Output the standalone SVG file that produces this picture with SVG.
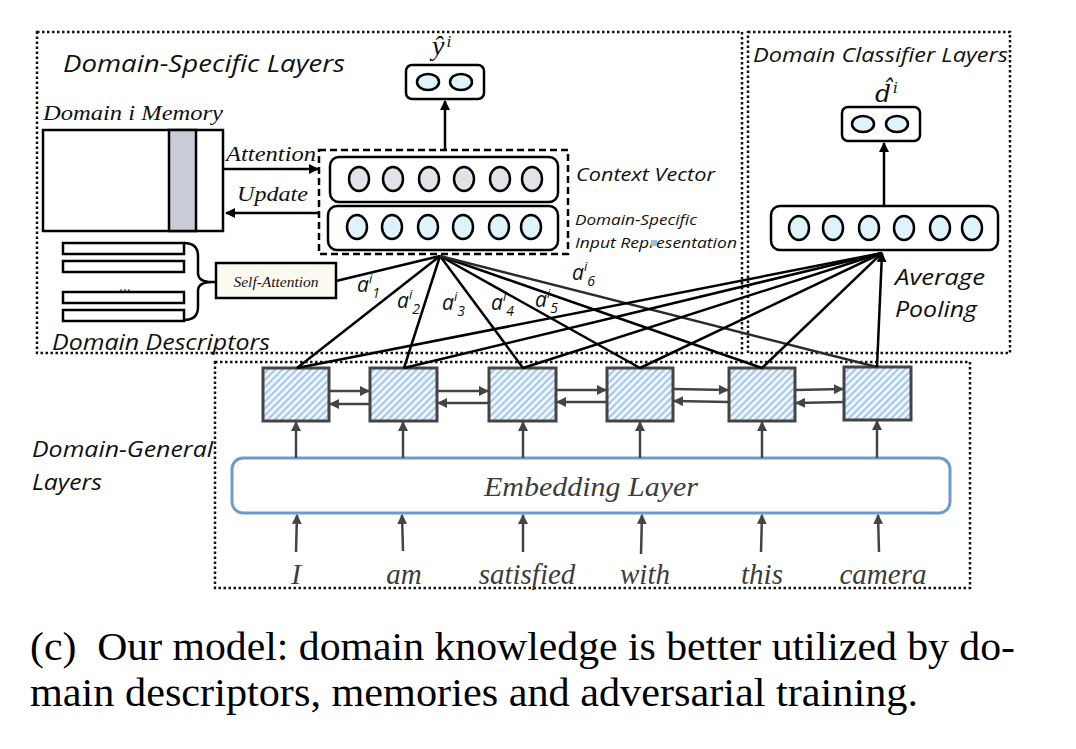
<svg xmlns="http://www.w3.org/2000/svg" width="1076" height="749" viewBox="0 0 1076 749">
<style>
.sans{font-family:"Open Sans","Noto Sans","Liberation Sans",sans-serif;font-style:italic;fill:#111}
.serif{font-family:"Liberation Serif","Times New Roman",serif;font-style:italic;fill:#111}
.gserif{font-family:"Liberation Serif","Times New Roman",serif;font-style:italic;fill:#3c3c3c}
.dot{fill:none;stroke:#111;stroke-width:2.5;stroke-dasharray:2.5 2.5}
.blk{fill:none;stroke:#000;stroke-width:2.5}
.rr{fill:#fff;stroke:#000;stroke-width:2.5}
.cg{fill:#e1e3e9;stroke:#000;stroke-width:2.5}
.cb{fill:#def3fc;stroke:#000;stroke-width:2.5}
.lstm{fill:url(#hatch);stroke:#444;stroke-width:3}
.ga{fill:none;stroke:#444;stroke-width:2.5;marker-end:url(#ag)}
.ba{fill:none;stroke:#000;stroke-width:2.5;marker-end:url(#ab)}
.ln{fill:none;stroke:#000;stroke-width:2.5}
.cap{font-family:"Liberation Serif","Times New Roman",serif;fill:#000}
</style>
<defs>
<marker id="ab" viewBox="0 0 10 10" refX="9" refY="5" markerWidth="4" markerHeight="4" orient="auto" markerUnits="strokeWidth"><path d="M0,0 L10,5 L0,10 z" fill="#000"/></marker>
<marker id="ag" viewBox="0 0 10 10" refX="9" refY="5" markerWidth="4" markerHeight="4" orient="auto" markerUnits="strokeWidth"><path d="M0,0 L10,5 L0,10 z" fill="#444"/></marker>
<pattern id="hatch" width="5" height="5" patternUnits="userSpaceOnUse" patternTransform="rotate(45)"><rect width="5" height="5" fill="#eef5fc"/><line x1="1" y1="0" x2="1" y2="5" stroke="#9cc2e8" stroke-width="1.8"/></pattern>
</defs>

<g id="frames">
<rect class="dot" x="37" y="32" width="705" height="321"/>
<rect class="dot" x="748" y="32" width="262" height="321"/>
<rect class="dot" x="215" y="362" width="755" height="226"/>
<text class="sans" x="63" y="72" font-size="24" textLength="282" lengthAdjust="spacingAndGlyphs">Domain-Specific Layers</text>
<text class="sans" x="753" y="62" font-size="20" textLength="255" lengthAdjust="spacingAndGlyphs">Domain Classifier Layers</text>
<text class="sans" x="32" y="457" font-size="21" textLength="181" lengthAdjust="spacingAndGlyphs">Domain-General</text>
<text class="sans" x="32" y="490" font-size="21" textLength="70" lengthAdjust="spacingAndGlyphs">Layers</text>
</g>

<g id="memory">
<text class="serif" x="43" y="120" font-size="22" textLength="180" lengthAdjust="spacingAndGlyphs">Domain i Memory</text>
<rect x="43" y="130" width="180" height="101" fill="#fff" stroke="#000" stroke-width="2.5"/>
<rect x="169" y="130" width="27" height="101" fill="#c9ccd7" stroke="#000" stroke-width="2.5"/>
</g>

<g id="descriptors">
<rect class="rr" x="63" y="243" width="121" height="11"/>
<rect class="rr" x="63" y="261" width="121" height="11"/>
<rect class="rr" x="63" y="292" width="121" height="11"/>
<rect class="rr" x="63" y="310" width="121" height="11"/>
<text x="119" y="291" font-family="Liberation Sans,sans-serif" font-size="14" fill="#111">...</text>
<path class="blk" d="M184,243 Q198,243 198,256 L198,273 Q198,282 212,282 M184,320 Q198,320 198,307 L198,291 Q198,282 212,282 L216,282"/>
<text class="sans" x="52" y="350" font-size="22" textLength="218" lengthAdjust="spacingAndGlyphs">Domain Descriptors</text>
</g>

<g id="self-attention">
<rect x="216" y="263" width="120" height="35" fill="#fdfbf1" stroke="#000" stroke-width="2.5"/>
<text class="serif" x="276" y="287" font-size="14.5" text-anchor="middle" textLength="85" lengthAdjust="spacingAndGlyphs">Self-Attention</text>
</g>

<g id="domain-specific-vectors">
<rect x="319" y="150" width="249" height="104" fill="none" stroke="#000" stroke-width="2.5" stroke-dasharray="7 4"/>
<rect class="rr" x="330" y="157" width="228" height="45" rx="9"/>
<ellipse class="cg" cx="359" cy="179" rx="10" ry="12"/>
<ellipse class="cg" cx="393" cy="179" rx="10" ry="12"/>
<ellipse class="cg" cx="429" cy="179" rx="10" ry="12"/>
<ellipse class="cg" cx="464" cy="179" rx="10" ry="12"/>
<ellipse class="cg" cx="500" cy="179" rx="10" ry="12"/>
<ellipse class="cg" cx="532" cy="179" rx="10" ry="12"/>
<rect class="rr" x="328" y="206" width="230" height="44" rx="9"/>
<ellipse class="cb" cx="357" cy="227" rx="10" ry="12"/>
<ellipse class="cb" cx="392" cy="227" rx="10" ry="12"/>
<ellipse class="cb" cx="428" cy="227" rx="10" ry="12"/>
<ellipse class="cb" cx="463" cy="227" rx="10" ry="12"/>
<ellipse class="cb" cx="499" cy="227" rx="10" ry="12"/>
<ellipse class="cb" cx="531" cy="227" rx="10" ry="12"/>
<text class="sans" x="576" y="181" font-size="19" textLength="139" lengthAdjust="spacingAndGlyphs">Context Vector</text>
<text class="sans" x="575" y="225" font-size="15" textLength="122" lengthAdjust="spacingAndGlyphs">Domain-Specific</text>
<text class="sans" x="575" y="248" font-size="15" textLength="162" lengthAdjust="spacingAndGlyphs">Input Representation</text>
<rect x="651" y="240" width="6" height="6" fill="#9bbdd6"/>
</g>

<g id="y-output">
<rect class="rr" x="406" y="65" width="78" height="34" rx="6"/>
<ellipse class="cb" cx="428" cy="82" rx="11" ry="8"/>
<ellipse class="cb" cx="461" cy="82" rx="11" ry="8"/>
<text class="serif" x="432" y="55" font-size="28">ŷ<tspan font-size="17" dx="2" dy="-8">i</tspan></text>
</g>

<g id="d-output">
<rect class="rr" x="842" y="107" width="78" height="34" rx="6"/>
<ellipse class="cb" cx="863" cy="124" rx="11" ry="8"/>
<ellipse class="cb" cx="897" cy="124" rx="11" ry="8"/>
<text x="875" y="102" font-family="'DejaVu Serif',serif" font-style="italic" font-size="25" fill="#111">d̂<tspan font-size="15" dx="2" dy="-9">i</tspan></text>
</g>

<g id="pooling-vector">
<rect class="rr" x="771" y="206" width="227" height="44" rx="9"/>
<ellipse class="cb" cx="799" cy="228" rx="10" ry="12"/>
<ellipse class="cb" cx="833" cy="228" rx="10" ry="12"/>
<ellipse class="cb" cx="869" cy="228" rx="10" ry="12"/>
<ellipse class="cb" cx="904" cy="228" rx="10" ry="12"/>
<ellipse class="cb" cx="940" cy="228" rx="10" ry="12"/>
<ellipse class="cb" cx="972" cy="228" rx="10" ry="12"/>
<text class="sans" x="895" y="285" font-size="22" textLength="90" lengthAdjust="spacingAndGlyphs">Average</text>
<text class="sans" x="895" y="317" font-size="22" textLength="82" lengthAdjust="spacingAndGlyphs">Pooling</text>
</g>

<g id="embedding">
<rect x="232" y="458" width="718" height="55" rx="11" fill="#fff" stroke="#6b9bcc" stroke-width="3"/>
<text class="gserif" x="484" y="496" font-size="28" textLength="214" lengthAdjust="spacingAndGlyphs">Embedding Layer</text>
</g>

<g id="lstm">
<rect class="lstm" x="263" y="368" width="66" height="53"/>
<rect class="lstm" x="370" y="368" width="67" height="53"/>
<rect class="lstm" x="489" y="368" width="67" height="53"/>
<rect class="lstm" x="607" y="368" width="66" height="53"/>
<rect class="lstm" x="729" y="368" width="66" height="53"/>
<rect class="lstm" x="844" y="367" width="67" height="53"/>
</g>

<g id="words">
<text class="gserif" x="296" y="584" font-size="29" text-anchor="middle">I</text>
<text class="gserif" x="404" y="584" font-size="29" text-anchor="middle">am</text>
<text class="gserif" x="527" y="584" font-size="29" text-anchor="middle">satisfied</text>
<text class="gserif" x="645" y="584" font-size="29" text-anchor="middle">with</text>
<text class="gserif" x="762" y="584" font-size="29" text-anchor="middle">this</text>
<text class="gserif" x="883" y="584" font-size="29" text-anchor="middle">camera</text>
</g>

<g id="connectors">
<line class="ba" x1="223" y1="169" x2="318" y2="169"/>
<line class="ba" x1="319" y1="213" x2="226" y2="213"/>
<text class="serif" x="226" y="161" font-size="22" textLength="90" lengthAdjust="spacingAndGlyphs">Attention</text>
<text class="serif" x="237" y="201" font-size="22" textLength="71" lengthAdjust="spacingAndGlyphs">Update</text>
<line class="ba" x1="445" y1="149" x2="445" y2="101"/>
<line class="ba" x1="884" y1="205" x2="884" y2="143"/>
<line class="ln" x1="336" y1="281" x2="440" y2="256"/>
<line class="ln" x1="297" y1="368" x2="440" y2="256"/>
<line class="ln" x1="404" y1="368" x2="440" y2="256"/>
<line class="ln" x1="523" y1="368" x2="440" y2="256"/>
<line class="ln" x1="640" y1="368" x2="440" y2="256"/>
<line class="ln" x1="762" y1="368" x2="440" y2="256"/>
<line x1="877" y1="367" x2="440" y2="256" stroke="#2a2a2a" stroke-width="2.5"/>
<line class="ln" x1="297" y1="368" x2="882" y2="253"/>
<line class="ln" x1="404" y1="368" x2="882" y2="253"/>
<line class="ln" x1="523" y1="368" x2="882" y2="253"/>
<line class="ln" x1="640" y1="368" x2="882" y2="253"/>
<line class="ln" x1="762" y1="368" x2="882" y2="253"/>
<line class="ba" x1="877" y1="367" x2="882" y2="253"/>
<text class="sans" x="357" y="292" font-size="21">a<tspan font-size="13" dy="-9">i</tspan><tspan font-size="14" dy="15">1</tspan></text>
<text class="sans" x="397" y="308" font-size="21">a<tspan font-size="13" dy="-9">i</tspan><tspan font-size="14" dy="15">2</tspan></text>
<text class="sans" x="442" y="310" font-size="21">a<tspan font-size="13" dy="-9">i</tspan><tspan font-size="14" dy="15">3</tspan></text>
<text class="sans" x="491" y="310" font-size="21">a<tspan font-size="13" dy="-9">i</tspan><tspan font-size="14" dy="15">4</tspan></text>
<text class="sans" x="535" y="307" font-size="21">a<tspan font-size="13" dy="-9">i</tspan><tspan font-size="14" dy="15">5</tspan></text>
<text class="sans" x="572" y="280" font-size="21">a<tspan font-size="13" dy="-9">i</tspan><tspan font-size="14" dy="15">6</tspan></text>
<line class="ga" x1="329" y1="391" x2="369" y2="391"/>
<line class="ga" x1="370" y1="404" x2="330" y2="404"/>
<line class="ga" x1="437" y1="391" x2="488" y2="391"/>
<line class="ga" x1="489" y1="403" x2="438" y2="403"/>
<line class="ga" x1="556" y1="390" x2="606" y2="390"/>
<line class="ga" x1="607" y1="402" x2="557" y2="402"/>
<line class="ga" x1="673" y1="389" x2="728" y2="390"/>
<line class="ga" x1="729" y1="402" x2="674" y2="401"/>
<line class="ga" x1="795" y1="390" x2="843" y2="389"/>
<line class="ga" x1="844" y1="402" x2="796" y2="403"/>
<line class="ga" x1="296" y1="458" x2="296" y2="422"/>
<line class="ga" x1="403" y1="458" x2="403" y2="422"/>
<line class="ga" x1="523" y1="458" x2="523" y2="422"/>
<line class="ga" x1="640" y1="458" x2="640" y2="422"/>
<line class="ga" x1="762" y1="458" x2="762" y2="422"/>
<line class="ga" x1="877" y1="458" x2="877" y2="421"/>
<line class="ga" x1="296" y1="552" x2="297" y2="515"/>
<line class="ga" x1="403" y1="551" x2="402" y2="515"/>
<line class="ga" x1="523" y1="552" x2="523" y2="515"/>
<line class="ga" x1="641" y1="554" x2="642" y2="515"/>
<line class="ga" x1="761" y1="552" x2="762" y2="515"/>
<line class="ga" x1="879" y1="552" x2="878" y2="515"/>
</g>

<g id="caption">
<text class="cap" x="30" y="660" font-size="39" textLength="985" lengthAdjust="spacingAndGlyphs" xml:space="preserve">(c)  Our model: domain knowledge is better utilized by do-</text>
<text class="cap" x="30" y="706" font-size="39" textLength="888" lengthAdjust="spacingAndGlyphs">main descriptors, memories and adversarial training.</text>
</g>
</svg>
